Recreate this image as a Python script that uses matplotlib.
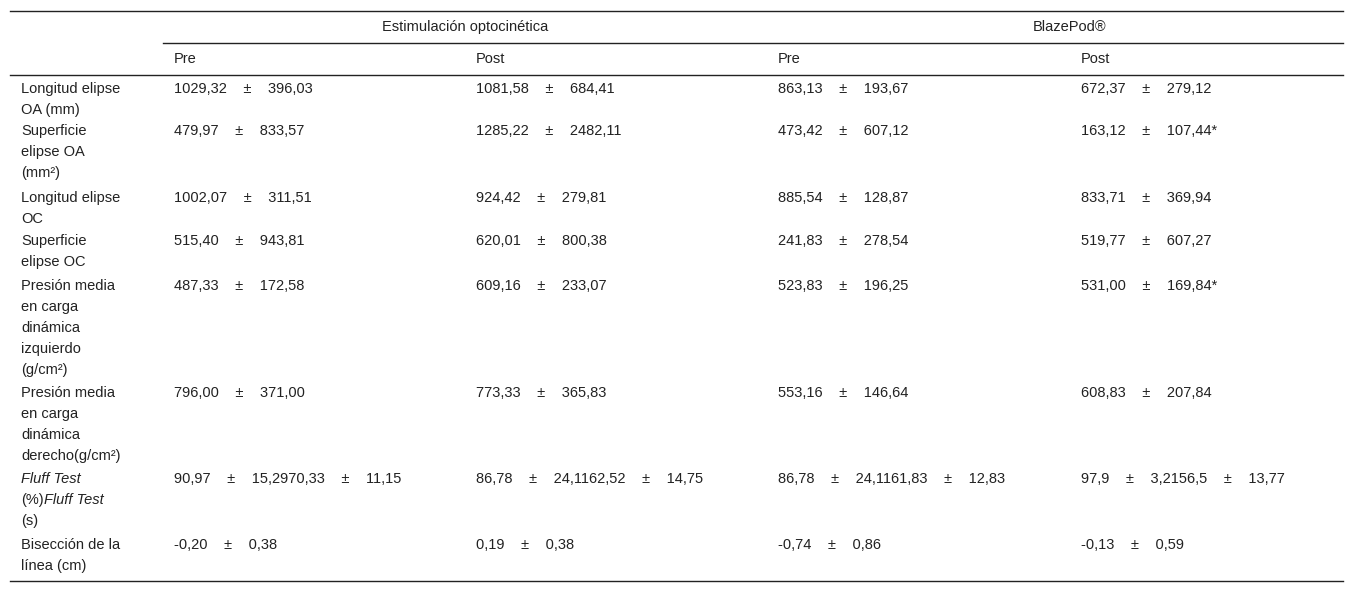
import matplotlib
matplotlib.use('Agg')
from matplotlib import pyplot as plt
from matplotlib.lines import Line2D

plt.rcParams['font.family'] = ['Liberation Sans', 'DejaVu Sans']

W, H = 1356, 594

groups = ['Estimulación optocinética', 'BlazePod®']
subheads = ['Pre', 'Post', 'Pre', 'Post']

# row labels, split in lines; items starting with '_' are italic
row_labels = [
    ['Longitud elipse', 'OA (mm)'],
    ['Superficie', 'elipse OA', '(mm²)'],
    ['Longitud elipse', 'OC'],
    ['Superficie', 'elipse OC'],
    ['Presión media', 'en carga', 'dinámica', 'izquierdo', '(g/cm²)'],
    ['Presión media', 'en carga', 'dinámica', 'derecho(g/cm²)'],
    [[('Fluff Test', True)], [('(%)', False), ('Fluff Test', True)], [('(s)', False)]],
    ['Bisección de la', 'línea (cm)'],
]

eo_pre_mean = ['1029,32', '479,97', '1002,07', '515,40', '487,33', '796,00', '90,97', '-0,20']
eo_pre_sd = ['396,03', '833,57', '311,51', '943,81', '172,58', '371,00', '15,2970,33    ±    11,15', '0,38']
eo_post_mean = ['1081,58', '1285,22', '924,42', '620,01', '609,16', '773,33', '86,78', '0,19']
eo_post_sd = ['684,41', '2482,11', '279,81', '800,38', '233,07', '365,83', '24,1162,52    ±    14,75', '0,38']
bp_pre_mean = ['863,13', '473,42', '885,54', '241,83', '523,83', '553,16', '86,78', '-0,74']
bp_pre_sd = ['193,67', '607,12', '128,87', '278,54', '196,25', '146,64', '24,1161,83    ±    12,83', '0,86']
bp_post_mean = ['672,37', '163,12', '833,71', '519,77', '531,00', '608,83', '97,9', '-0,13']
bp_post_sd = ['279,12', '107,44*', '369,94', '607,27', '169,84*', '207,84', '3,2156,5    ±    13,77', '0,59']

columns = [(eo_pre_mean, eo_pre_sd), (eo_post_mean, eo_post_sd),
           (bp_pre_mean, bp_pre_sd), (bp_post_mean, bp_post_sd)]

row_tops = [89, 131, 198, 241, 286, 393, 479, 545]
col_x = [174, 476, 778, 1081]
line_h = 21
fs = 10.5

fig = plt.figure(figsize=(W / 100, H / 100), dpi=100)


def px(x, y):
    return x / W, 1 - y / H


def txt(x, y, s, **kw):
    kw.setdefault('ha', 'left')
    fig.text(*px(x, y), s, fontsize=fs, va='center', color='#222222', **kw)


def hline(x0, x1, y, lw=1.0):
    (a, b), (c, _) = px(x0, y), px(x1, y)
    fig.add_artist(Line2D([a, c], [b, b], color='#222222', lw=lw))


hline(10, 1343, 11)
hline(163, 1343, 43)
hline(10, 1343, 75)
hline(10, 1343, 581)

txt(465, 27, groups[0], ha='center')
txt(1070, 27, groups[1], ha='center')
for x, s in zip(col_x, subheads):
    txt(x, 59, s)

for i, (label, y0) in enumerate(zip(row_labels, row_tops)):
    for j, line in enumerate(label):
        y = y0 + j * line_h
        if isinstance(line, str):
            txt(21, y, line)
        else:
            x = 21
            for part, it in line:
                t = fig.text(*px(x, y), part, fontsize=fs, va='center', ha='left',
                             color='#222222', style='italic' if it else 'normal')
                fig.canvas.draw()
                bb = t.get_window_extent()
                x += bb.width
    for x, (means, sds) in zip(col_x, columns):
        txt(x, y0, means[i] + '    ±    ' + sds[i])

fig.savefig('out.png', dpi=100)
